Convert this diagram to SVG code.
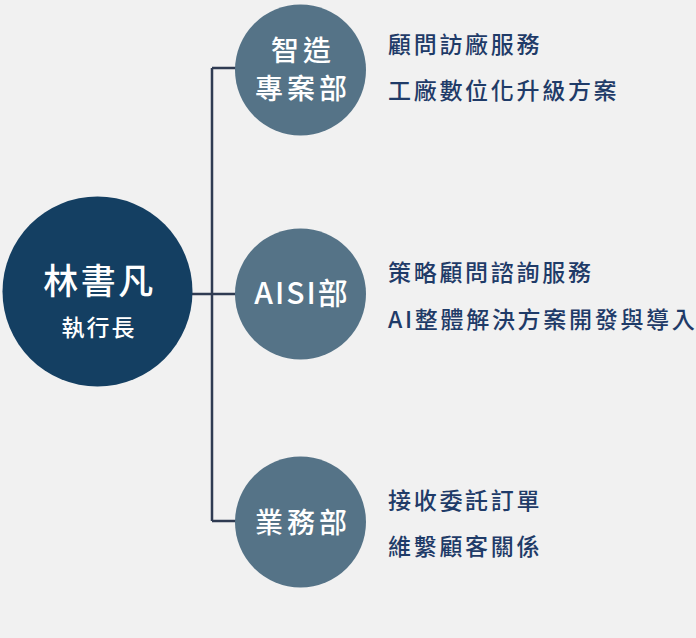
<svg xmlns="http://www.w3.org/2000/svg" width="696" height="638" viewBox="0 0 696 638">
<style>
text{font-family:"Noto Sans CJK TC","Noto Sans CJK SC",sans-serif}
.ct{fill:#ffffff;text-anchor:middle;font-weight:500}
.dn{font-size:28px;letter-spacing:4px}
.dt{fill:#1f3b68;font-size:23px;font-weight:500;letter-spacing:2.7px}
.sub{fill:#557387}
.ln{stroke:#2f3b52;stroke-width:2.5;fill:none}
</style>
<rect width="696" height="638" fill="#f1f1f1"/>
<g id="connectors">
<path class="ln" d="M190 294H212M212 68V521M212 68H240M212 294H240M212 521H240"/>
</g>
<g id="ceo">
<circle cx="97.5" cy="291.5" r="95" fill="#143f62"/>
<text class="ct" x="99.5" y="294" font-size="35" letter-spacing="2.5">林書凡</text>
<text class="ct" x="99" y="336" font-size="23" letter-spacing="2">執行長</text>
</g>
<g id="dept1">
<circle class="sub" cx="300.5" cy="70" r="65.5"/>
<text class="ct dn" x="303" y="61">智造</text>
<text class="ct dn" x="303" y="99">專案部</text>
</g>
<g id="dept2">
<circle class="sub" cx="300.5" cy="294" r="65.5"/>
<text class="ct" x="302" y="304" font-size="30" letter-spacing="2">AISI部</text>
</g>
<g id="dept3">
<circle class="sub" cx="300.5" cy="522" r="65.5"/>
<text class="ct dn" x="303" y="533">業務部</text>
</g>
<g id="desc1">
<text class="dt" x="388" y="53">顧問訪廠服務</text>
<text class="dt" x="388" y="99">工廠數位化升級方案</text>
</g>
<g id="desc2">
<text class="dt" x="388" y="281">策略顧問諮詢服務</text>
<text class="dt" x="388" y="328">AI整體解決方案開發與導入</text>
</g>
<g id="desc3">
<text class="dt" x="388" y="509">接收委託訂單</text>
<text class="dt" x="388" y="555">維繫顧客關係</text>
</g>
</svg>
